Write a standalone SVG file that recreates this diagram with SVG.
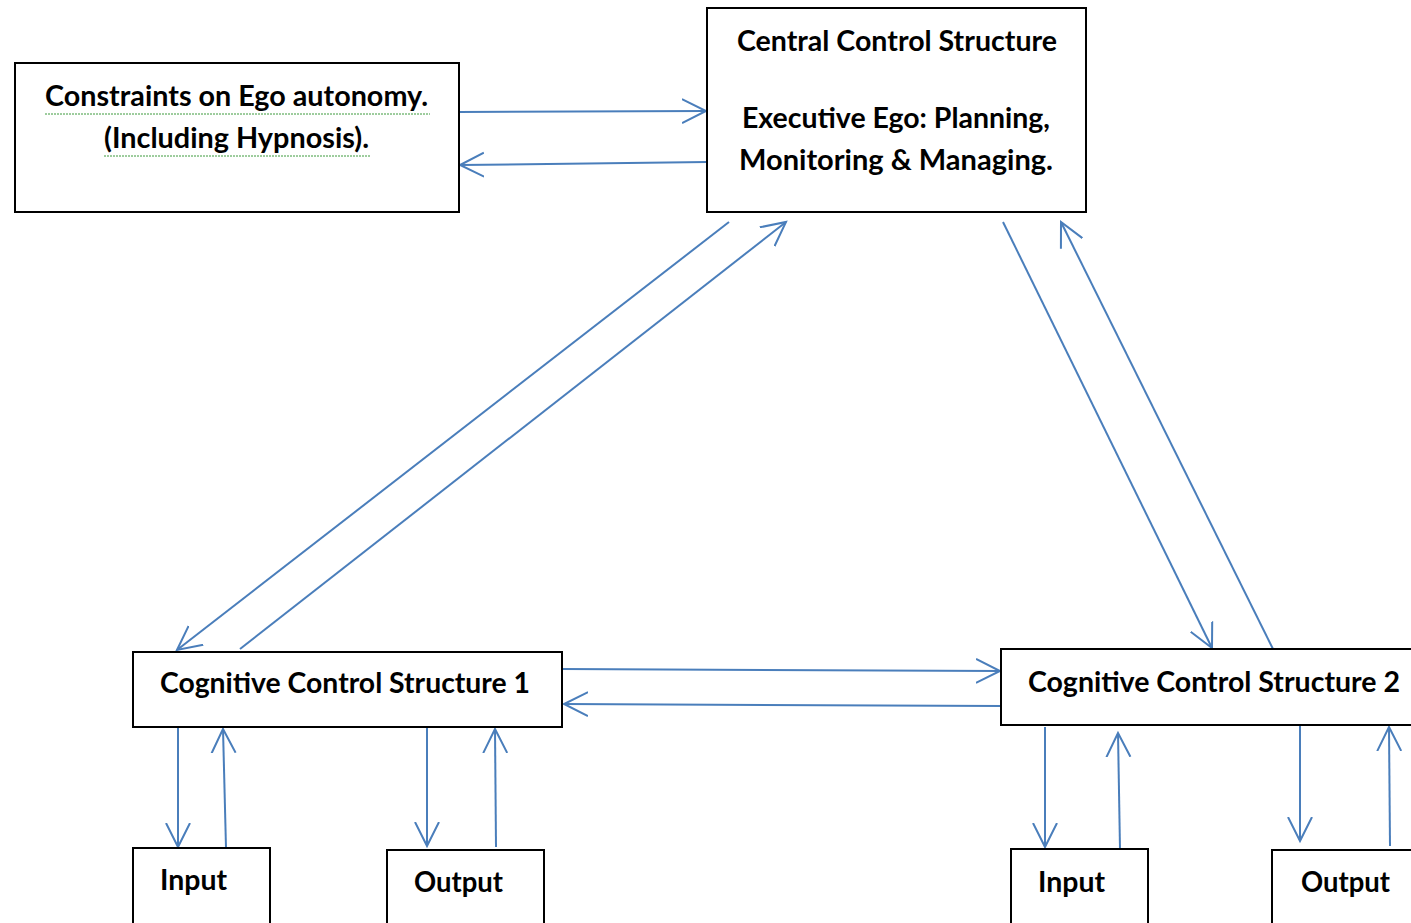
<svg xmlns="http://www.w3.org/2000/svg" width="1411" height="923" viewBox="0 0 1411 923">
<style>
.box{fill:#fff;stroke:#000;stroke-width:2}
.t{font-family:Lato,"Open Sans","Liberation Sans",sans-serif;font-weight:bold;font-size:28px;fill:#000}
.c{fill:none;stroke:#4a7ebb;stroke-width:2;marker-end:url(#ah)}
.sq{fill:none;stroke:#3c9a3c;stroke-width:1;stroke-dasharray:2 1}
</style>
<defs>
<marker id="ah" markerUnits="userSpaceOnUse" markerWidth="30" markerHeight="30" refX="24" refY="12" orient="auto" viewBox="0 0 30 24">
<path d="M0,0 L24,12 L0,24" fill="none" stroke="#4a7ebb" stroke-width="2"/>
</marker>
</defs>
<rect width="1411" height="923" fill="#fff"/>
<g id="connectors">
<line class="c" x1="459" y1="112" x2="706" y2="111"/>
<line class="c" x1="707" y1="162" x2="460" y2="165"/>
<line class="c" x1="729" y1="222" x2="177" y2="650"/>
<line class="c" x1="240" y1="649" x2="786" y2="222"/>
<line class="c" x1="1003" y1="222" x2="1212" y2="648"/>
<line class="c" x1="1273" y1="649" x2="1061" y2="222"/>
<line class="c" x1="562" y1="669" x2="1000" y2="671"/>
<line class="c" x1="1001" y1="706" x2="564" y2="704"/>
<line class="c" x1="178" y1="727" x2="178" y2="847"/>
<line class="c" x1="226" y1="848" x2="223" y2="729"/>
<line class="c" x1="427" y1="727" x2="427" y2="846"/>
<line class="c" x1="496" y1="847" x2="495" y2="729"/>
<line class="c" x1="1045" y1="727" x2="1045" y2="847"/>
<line class="c" x1="1120" y1="849" x2="1118" y2="733"/>
<line class="c" x1="1300" y1="725" x2="1300" y2="841"/>
<line class="c" x1="1390" y1="846" x2="1389" y2="727"/>
</g>
<g id="constraints">
<rect class="box" x="15" y="63" width="444" height="149"/>
<text class="t" x="45" y="106" textLength="383" lengthAdjust="spacingAndGlyphs">Constraints on Ego autonomy.</text>
<text class="t" x="104" y="148" textLength="265" lengthAdjust="spacingAndGlyphs">(Including Hypnosis).</text>
<line class="sq" x1="45" y1="114" x2="430" y2="114"/>
<line class="sq" x1="104" y1="156" x2="371" y2="156"/>
</g>
<g id="central">
<rect class="box" x="707" y="8" width="379" height="204"/>
<text class="t" x="737" y="51" textLength="320" lengthAdjust="spacingAndGlyphs">Central Control Structure</text>
<text class="t" x="742" y="128" textLength="308" lengthAdjust="spacingAndGlyphs">Executive Ego: Planning,</text>
<text class="t" x="739" y="170" textLength="314" lengthAdjust="spacingAndGlyphs">Monitoring &amp; Managing.</text>
</g>
<g id="ccs1">
<rect class="box" x="133" y="652" width="429" height="75"/>
<text class="t" x="160" y="693" textLength="370" lengthAdjust="spacingAndGlyphs">Cognitive Control Structure 1</text>
</g>
<g id="ccs2">
<rect class="box" x="1001" y="649" width="420" height="76"/>
<text class="t" x="1028" y="692" textLength="372" lengthAdjust="spacingAndGlyphs">Cognitive Control Structure 2</text>
</g>
<g id="input1">
<rect class="box" x="133" y="848" width="137" height="90"/>
<text class="t" x="160" y="890" textLength="67" lengthAdjust="spacingAndGlyphs">Input</text>
</g>
<g id="output1">
<rect class="box" x="387" y="850" width="157" height="90"/>
<text class="t" x="414" y="892" textLength="89" lengthAdjust="spacingAndGlyphs">Output</text>
</g>
<g id="input2">
<rect class="box" x="1011" y="849" width="137" height="90"/>
<text class="t" x="1038" y="892" textLength="67" lengthAdjust="spacingAndGlyphs">Input</text>
</g>
<g id="output2">
<rect class="box" x="1272" y="850" width="150" height="90"/>
<text class="t" x="1301" y="892" textLength="89" lengthAdjust="spacingAndGlyphs">Output</text>
</g>
</svg>
